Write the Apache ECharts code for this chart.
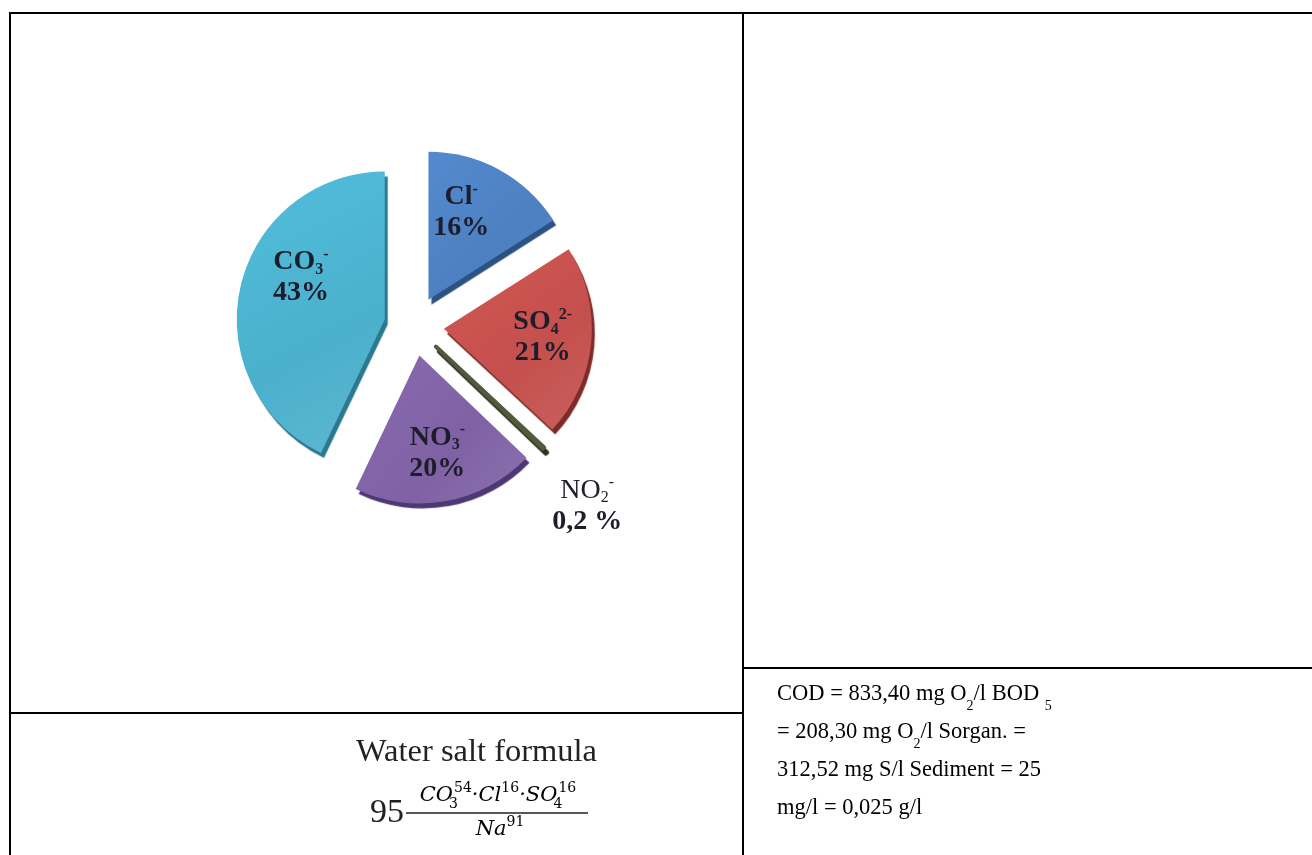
<!DOCTYPE html>
<html>
<head>
<meta charset="utf-8">
<title>Anion composition</title>
<script src="https://cdn.jsdelivr.net/npm/echarts@6/dist/echarts.min.js"></script>
<style>
  html, body { margin: 0; padding: 0; background: #ffffff; }
  #chart { width: 1312px; height: 855px; }
</style>
</head>
<body>
<div id="chart"></div>
<script>
// Anion shares of the water sample, clockwise from 12 o'clock
const ions = ['Cl', 'SO4', 'NO2', 'NO3', 'CO3'];
const shares = [16, 21, 0.2, 20, 43];
const shareText = ['16%', '21%', '0,2 %', '20%', '43%'];
// formula pieces of each ion: base letters, subscript, charge
const ionBase = ['Cl', 'SO', 'NO', 'NO', 'CO'];
const ionSub = ['', '4', '2', '3', '3'];
const ionCharge = ['-', '2-', '-', '-', '-'];
const sliceColors = ['#4d80c0', '#c4504d', '#505b3c', '#7f62a4', '#4bb0cc'];
const sideColors = ['#2c5283', '#7d2a28', '#2a3120', '#4c3873', '#2a7990'];
// per-label nudges inside their slices (padding: top, right, bottom, left)
const labelPadding = [[0, 30, 0, 0], [0, 0, 0, 0], [20, 14, 0, 0], [0, 0, 0, 0], [0, 0, 40, 26]];

// notes in the lower right cell
const noteLines = [
  ['COD = 833,40 mg O', '2', '/l BOD ', '5'],
  ['= 208,30 mg O', '2', '/l Sorgan. =', ''],
  ['312,52 mg S/l Sediment = 25', '', '', ''],
  ['mg/l = 0,025 g/l', '', '', '']
];

const SERIF = '"Liberation Serif", "Times New Roman", serif';
const PIE_CENTER = [414, 326];
const PIE_R = 148;
const EXPLODE = 30;

const sliceData = ions.map((name, i) => ({
  name: name,
  value: shares[i],
  selected: true,
  itemStyle: {
    color: {
      type: 'linear', x: 0, y: 0, x2: 1, y2: 1,
      colorStops: [
        { offset: 0, color: echarts.color.lift(sliceColors[i], -0.08) },
        { offset: 0.6, color: sliceColors[i] },
        { offset: 1, color: echarts.color.lift(sliceColors[i], 0.1) }
      ]
    },
    borderColor: i === 2 ? sliceColors[i] : 'rgba(0,0,0,0)',
    borderWidth: i === 2 ? 4 : 0,
    shadowColor: sideColors[i],
    shadowBlur: 1,
    shadowOffsetX: 3,
    shadowOffsetY: 5
  }
}));

function ionLabel(i, bold) {
  const w = bold ? '' : 'r';
  let s = '{' + (bold ? 'b' : 'r') + '|' + ionBase[i] + '}';
  if (ionSub[i]) s += '{' + w + 'sub|' + ionSub[i] + '}';
  s += '{' + w + 'sup|' + ionCharge[i] + '}';
  return s + '\n{b|' + shareText[i] + '}';
}

const INK = '#1d1d2b';
const labelRich = {
  b:    { fontFamily: SERIF, fontWeight: 'bold', fontSize: 28, lineHeight: 31, color: INK },
  sub:  { fontFamily: SERIF, fontWeight: 'bold', fontSize: 16, lineHeight: 16, verticalAlign: 'bottom', color: INK },
  sup:  { fontFamily: SERIF, fontWeight: 'bold', fontSize: 16, lineHeight: 16, verticalAlign: 'top', color: INK },
  r:    { fontFamily: SERIF, fontSize: 28, lineHeight: 31, color: INK },
  rsub: { fontFamily: SERIF, fontSize: 16, lineHeight: 16, verticalAlign: 'bottom', color: INK },
  rsup: { fontFamily: SERIF, fontSize: 16, lineHeight: 16, verticalAlign: 'top', color: INK }
};

// transparent copies of the pie only carry the labels at a chosen depth
function labelData(showFor) {
  return ions.map((name, i) => ({
    name: name,
    value: shares[i],
    selected: true,
    label: { show: showFor(i), padding: labelPadding[i] }
  }));
}

const labelPieBase = {
  type: 'pie',
  center: PIE_CENTER,
  startAngle: 90,
  clockwise: true,
  selectedMode: 'multiple',
  selectedOffset: EXPLODE,
  avoidLabelOverlap: false,
  silent: true,
  itemStyle: { color: 'rgba(0,0,0,0)' },
  labelLine: { show: false },
  emphasis: { disabled: true },
  label: {
    position: 'inside',
    formatter: p => ionLabel(p.dataIndex, p.dataIndex !== 2),
    rich: labelRich
  }
};

// lower left cell: salt formula of the water
const MATH = '"DejaVu Serif", serif';
const formulaRich = {
  i:   { fontFamily: MATH, fontStyle: 'italic', fontSize: 21, lineHeight: 30, color: '#222' },
  sub: { fontFamily: MATH, fontSize: 14, lineHeight: 14, verticalAlign: 'bottom', color: '#222', width: 1 },
  sup: { fontFamily: MATH, fontSize: 14, lineHeight: 14, verticalAlign: 'top', color: '#222' }
};

const noteRich = {
  t: { fontFamily: SERIF, fontSize: 22.5, lineHeight: 38, color: '#111' },
  s: { fontFamily: SERIF, fontSize: 14, lineHeight: 35, verticalAlign: 'bottom', color: '#111' }
};
const noteText = noteLines.map(parts => {
  let s = '{t|' + parts[0] + '}';
  if (parts[1]) s += '{s|' + parts[1] + '}';
  if (parts[2]) s += '{t|' + parts[2] + '}';
  if (parts[3]) s += '{s|' + parts[3] + '}';
  return s;
}).join('\n');

function rule(x1, y1, x2, y2) {
  return { type: 'line', silent: true, shape: { x1, y1, x2, y2 }, style: { stroke: '#000', lineWidth: 2 } };
}

const chart = echarts.init(document.getElementById('chart'), null, { renderer: 'canvas' });
chart.setOption({
  animation: false,
  backgroundColor: '#ffffff',
  series: [
    {
      type: 'pie',
      center: PIE_CENTER,
      radius: PIE_R,
      startAngle: 90,
      clockwise: true,
      selectedMode: 'multiple',
      selectedOffset: EXPLODE,
      avoidLabelOverlap: false,
      silent: true,
      label: { show: false },
      labelLine: { show: false },
      emphasis: { disabled: true },
      data: sliceData
    },
    Object.assign({}, labelPieBase, {
      radius: PIE_R * 1.3,
      data: labelData(i => i !== 2)
    }),
    Object.assign({}, labelPieBase, {
      radius: PIE_R * 2.9,
      data: labelData(i => i === 2)
    })
  ],
  graphic: [
    rule(9, 13, 1312, 13),
    rule(10, 12, 10, 855),
    rule(743, 12, 743, 855),
    rule(9, 713, 743, 713),
    rule(743, 668, 1312, 668),
    {
      type: 'text', silent: true,
      style: { text: 'Water salt formula', x: 356, y: 752, verticalAlign: 'middle',
               font: '32.5px ' + SERIF, fill: '#222' }
    },
    {
      type: 'text', silent: true,
      style: { text: '95', x: 370, y: 813, verticalAlign: 'middle', font: '34px ' + SERIF, fill: '#222' }
    },
    {
      type: 'line', silent: true,
      shape: { x1: 406, y1: 813, x2: 588, y2: 813 },
      style: { stroke: '#222', lineWidth: 1.5 }
    },
    {
      type: 'text', silent: true,
      style: {
        text: '{i|CO}{sub|3}{sup|54}{i|·Cl}{sup|16}{i|·SO}{sub|4}{sup|16}',
        x: 498, y: 811, align: 'center', verticalAlign: 'bottom', rich: formulaRich
      }
    },
    {
      type: 'text', silent: true,
      style: {
        text: '{i|Na}{sup|91}',
        x: 500, y: 815, align: 'center', verticalAlign: 'top', rich: formulaRich
      }
    },
    {
      type: 'text', silent: true,
      style: { text: noteText, x: 777, y: 675, align: 'left', verticalAlign: 'top', rich: noteRich }
    }
  ]
});
</script>
</body>
</html>
